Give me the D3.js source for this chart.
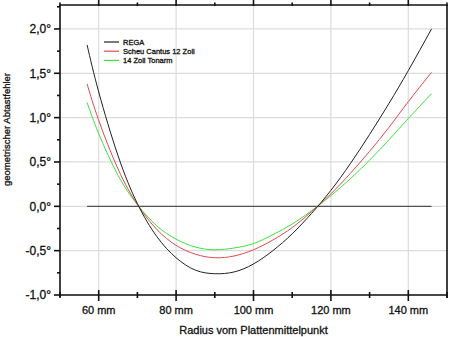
<!DOCTYPE html>
<html><head><meta charset="utf-8">
<script src="https://cdn.jsdelivr.net/npm/d3@7"></script>
<style>
html,body{margin:0;padding:0;background:#fff;}
svg{display:block;font-family:Arial,"Liberation Sans",sans-serif;}
text{stroke:#111;stroke-width:0.3;}
</style></head>
<body>
<svg id="c" width="450" height="337"></svg>
<script>
const radius = [57,60,65,70,75,80,85,90,95,100,105,110,115,120,125,130,135,140,146];
const rega   = [1.82,1.29,0.57,0.03,-0.34,-0.58,-0.72,-0.76,-0.74,-0.65,-0.50,-0.31,-0.08,0.18,0.48,0.81,1.16,1.53,2.00];
const scheu  = [1.38,0.97,0.42,0.02,-0.26,-0.44,-0.54,-0.58,-0.56,-0.49,-0.38,-0.24,-0.06,0.14,0.37,0.62,0.89,1.18,1.51];
const zoll14 = [1.17,0.82,0.35,0.02,-0.22,-0.37,-0.46,-0.49,-0.47,-0.42,-0.32,-0.20,-0.05,0.12,0.31,0.52,0.75,0.99,1.27];
const seriesNames = ["REGA","Scheu Cantus 12 Zoll","14 Zoll Tonarm"];
const seriesColors = ["#222222","#e04a4f","#3fe03f"];
const refX = [57,146];
const refY = [0,0];
const xTicks = [60,80,100,120,140];
const xMinor = [50,70,90,110,130,150];
const yTicks = [-1,-0.5,0,0.5,1,1.5,2];
const yMinor = [-0.75,-0.25,0.25,0.75,1.25,1.75,2.25];
const xTitle = "Radius vom Plattenmittelpunkt";
const yTitle = "geometrischer Abtastfehler";

const svg = d3.select("#c");
const L=60, R=447, T=5, B=295;
const x = d3.scaleLinear().domain([50,150]).range([L,R]);
const y = d3.scaleLinear().domain([-1,2.27]).range([B,T]);

// grid
const g = svg.append("g");
g.selectAll(".gx").data(xTicks).enter().append("line")
  .attr("x1",d=>x(d)).attr("x2",d=>x(d)).attr("y1",T).attr("y2",B)
  .attr("stroke","#dcdcdc").attr("stroke-width",1.2);
g.selectAll(".gy").data(yTicks).enter().append("line")
  .attr("x1",L).attr("x2",R).attr("y1",d=>y(d)).attr("y2",d=>y(d))
  .attr("stroke","#dcdcdc").attr("stroke-width",1.2);

// reference zero line
svg.append("line").attr("x1",x(refX[0])).attr("x2",x(refX[1]))
  .attr("y1",y(refY[0])).attr("y2",y(refY[1]))
  .attr("stroke","#333").attr("stroke-width",1);

// curves
const line = d3.line().x((d,i)=>x(radius[i])).y(d=>y(d)).curve(d3.curveNatural);
const all = [rega,scheu,zoll14];
[2,1,0].forEach(k=>{
  svg.append("path").attr("d",line(all[k])).attr("fill","none")
    .attr("stroke",seriesColors[k]).attr("stroke-width",1);
});

// axes frame
const ax = svg.append("g").attr("stroke","#111").attr("stroke-width",1.6);
ax.append("line").attr("x1",L).attr("x2",R).attr("y1",B).attr("y2",B);
ax.append("line").attr("x1",L).attr("x2",R).attr("y1",T).attr("y2",T);
ax.append("line").attr("x1",L).attr("x2",L).attr("y1",T).attr("y2",B+2);
ax.append("line").attr("x1",R).attr("x2",R).attr("y1",T).attr("y2",B+3);

ax.selectAll(".bt").data(xTicks).enter().append("line")
  .attr("x1",d=>x(d)).attr("x2",d=>x(d)).attr("y1",B-5).attr("y2",B+6);
ax.selectAll(".bm").data(xMinor).enter().append("line")
  .attr("x1",d=>x(d)).attr("x2",d=>x(d)).attr("y1",B-3).attr("y2",B+3);
ax.selectAll(".tt").data(xTicks).enter().append("line")
  .attr("x1",d=>x(d)).attr("x2",d=>x(d)).attr("y1",T-5).attr("y2",T+1);
ax.selectAll(".tm").data(xMinor).enter().append("line")
  .attr("x1",d=>x(d)).attr("x2",d=>x(d)).attr("y1",T-2.5).attr("y2",T+1);
ax.selectAll(".lt").data(yTicks).enter().append("line")
  .attr("x1",L-6).attr("x2",L).attr("y1",d=>y(d)).attr("y2",d=>y(d));
ax.selectAll(".lm").data(yMinor).enter().append("line")
  .attr("x1",L-3).attr("x2",L).attr("y1",d=>y(d)).attr("y2",d=>y(d));

// tick labels
const fmtY = d=> d3.format(".1f")(d).replace(".",",").replace("−","-")+"°";
svg.selectAll(".yl").data(yTicks).enter().append("text")
  .attr("x",51).attr("y",d=>y(d)).attr("dy","0.36em")
  .attr("text-anchor","end").attr("font-size",12).attr("fill","#111")
  .text(fmtY);
svg.selectAll(".xl").data(xTicks).enter().append("text")
  .attr("x",d=>x(d)).attr("y",314)
  .attr("text-anchor","middle").attr("font-size",11).attr("fill","#111")
  .text(d=>d+" mm");

// titles
svg.append("text").attr("x",(L+R)/2).attr("y",334).attr("text-anchor","middle")
  .attr("font-size",11).attr("fill","#111").text(xTitle);
svg.append("text").attr("transform","translate(10,129.5) rotate(-90)")
  .attr("text-anchor","middle").attr("font-size",9.5).attr("fill","#111").text(yTitle);

// legend
const lg = svg.append("g");
seriesNames.forEach((n,i)=>{
  const yy = 42 + i*9.2;
  lg.append("line").attr("x1",104).attr("x2",119).attr("y1",yy).attr("y2",yy)
    .attr("stroke",seriesColors[i]).attr("stroke-width",1.2);
  lg.append("text").attr("x",123).attr("y",yy).attr("dy","0.35em")
    .attr("font-size",7.5).attr("fill","#111").attr("stroke-width",0.2).text(n);
});
</script>
</body></html>
